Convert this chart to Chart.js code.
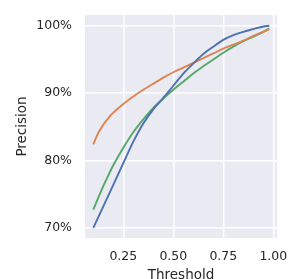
<!DOCTYPE html>
<html>
<head>
<meta charset="utf-8">
<script src="https://cdn.jsdelivr.net/npm/chart.js@4"></script>
<style>
  html, body { margin: 0; padding: 0; background: #fff; }
  #wrap { width: 299px; height: 279px; }
</style>
</head>
<body>
<div id="wrap"><canvas id="c" width="299" height="279"></canvas></div>
<script>
// threshold values (x) and precision per model, in %
const thresholds = [0.10, 0.125, 0.15, 0.175, 0.20, 0.25, 0.30, 0.35, 0.40, 0.45, 0.50,
                    0.55, 0.60, 0.65, 0.70, 0.75, 0.80, 0.85, 0.90, 0.95, 0.98];
const blueVals   = [70.0, 71.6, 73.2, 74.8, 76.4, 79.6, 82.8, 85.5, 87.6, 89.3, 91.1,
                    92.9, 94.4, 95.8, 96.9, 97.9, 98.6, 99.1, 99.5, 99.9, 100.0];
const orangeVals = [82.4, 84.1, 85.3, 86.3, 87.1, 88.4, 89.5, 90.5, 91.4, 92.3, 93.1,
                    93.8, 94.5, 95.2, 95.9, 96.6, 97.2, 97.8, 98.5, 99.1, 99.5];
const greenVals  = [72.7, 74.5, 76.2, 77.8, 79.3, 81.9, 84.2, 86.1, 87.8, 89.2, 90.5,
                    91.7, 92.9, 94.0, 95.0, 96.0, 96.9, 97.7, 98.4, 99.1, 99.6];
const xTicks = [0.25, 0.5, 0.75, 1.0];
const yTicks = [70, 80, 90, 100];

const FONT = 'DejaVu Sans';
const TEXT = '#262626';

const toPts = vals => thresholds.map((x, i) => ({ x: x, y: vals[i] }));
const line = (vals, color) => ({
  data: toPts(vals),
  borderColor: color,
  borderWidth: 1.9,
  pointRadius: 0,
  fill: false,
  cubicInterpolationMode: 'monotone'
});

// seaborn darkgrid panel
const panelBg = {
  id: 'panelBg',
  beforeDraw(chart) {
    const { ctx, chartArea: a } = chart;
    ctx.save();
    ctx.fillStyle = '#EAEAF2';
    ctx.fillRect(a.left, a.top, a.right - a.left, a.bottom - a.top);
    ctx.restore();
  }
};

new Chart(document.getElementById('c'), {
  type: 'line',
  data: {
    datasets: [
      line(blueVals, '#4C72B0'),
      line(orangeVals, '#DD8452'),
      line(greenVals, '#55A868')
    ]
  },
  plugins: [panelBg],
  options: {
    responsive: false,
    animation: false,
    layout: { padding: { top: 15, right: 22, left: 0, bottom: 0 } },
    plugins: { legend: { display: false }, tooltip: { enabled: false } },
    scales: {
      x: {
        type: 'linear',
        min: 0.0585,
        max: 1.0185,
        afterBuildTicks: ax => { ax.ticks = xTicks.map(v => ({ value: v })); },
        afterFit: ax => { ax.height = 41; ax.paddingLeft = 0; ax.paddingRight = 0; },
        ticks: {
          color: TEXT,
          font: { family: FONT, size: 12.5 },
          padding: 11,
          maxRotation: 0,
          callback: v => v.toFixed(2)
        },
        grid: { color: '#ffffff', lineWidth: 1.5, drawTicks: false },
        border: { display: false },
        title: {
          display: true,
          text: 'Threshold',
          color: TEXT,
          font: { family: FONT, size: 13.5 },
          padding: { top: 0, bottom: -5 }
        }
      },
      y: {
        type: 'linear',
        min: 68.5,
        max: 101.6,
        afterBuildTicks: ax => { ax.ticks = yTicks.map(v => ({ value: v })); },
        afterFit: ax => { ax.width = 85; ax.paddingTop = 0; ax.paddingBottom = 0; },
        ticks: {
          color: TEXT,
          font: { family: FONT, size: 12.5 },
          padding: 13,
          callback: v => v + '%'
        },
        grid: { color: '#ffffff', lineWidth: 1.5, drawTicks: false },
        border: { display: false },
        title: {
          display: true,
          text: 'Precision',
          color: TEXT,
          font: { family: FONT, size: 13.5 },
          padding: { top: 14, bottom: 0 }
        }
      }
    }
  }
});
</script>
</body>
</html>
